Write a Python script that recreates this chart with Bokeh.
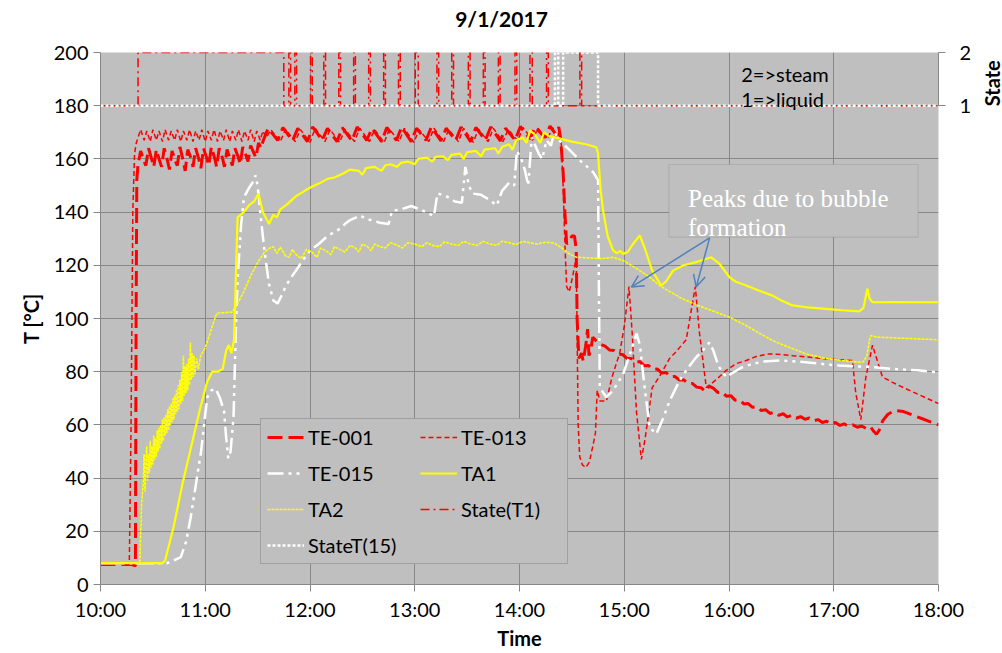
import math
from bokeh.plotting import figure
from bokeh.layouts import row, column
from bokeh.models import (Range1d, LinearAxis, FixedTicker, Legend, LegendItem,
                          BoxAnnotation, Label, Arrow, OpenHead)
from bokeh.embed import file_html
from bokeh.resources import INLINE

# Time is expressed in minutes after 10:00
hour_ticks = [0, 60, 120, 180, 240, 300, 360, 420, 480]
hour_labels = ["10:00", "11:00", "12:00", "13:00", "14:00",
               "15:00", "16:00", "17:00", "18:00"]
temp_ticks = [0, 20, 40, 60, 80, 100, 120, 140, 160, 180, 200]
state_ticks = [1, 2]

# ---- measured series: (minutes after 10:00, value) ----
te001 = [(0, 7.5), (18, 7.5), (20, 7), (20.4, 100), (20.8, 152), (21.5, 158),
         (23, 163), (25, 159), (26, 157.5), (27.5, 164), (29.5, 159.5), (30.5, 157),
         (32, 163.5), (34, 159), (35, 157), (36.5, 164), (38.5, 159), (39.5, 156),
         (41, 163), (43, 159), (44, 157.5), (45.5, 164.5), (47.5, 159), (48.5, 155.5),
         (50, 163.5), (52, 160), (53, 157), (54.5, 164), (56.5, 159.5), (57.5, 156.5),
         (59, 164), (61, 160), (62, 157.5), (63.5, 164.5), (65.5, 160), (66.5, 157),
         (68, 164), (70, 160), (71, 157), (72.5, 163.5), (74.5, 159.5), (75.5, 157.5),
         (77, 164), (79, 160.5), (80, 158), (81.5, 164.5), (83.5, 161), (84.5, 159),
         (86, 165), (88, 162), (89, 160.5), (90.5, 166), (92, 164), (93, 166.5),
         (96, 171.5), (101.5, 167), (104.5, 171.8), (110, 166.8), (113, 171.5),
         (118.5, 166.5), (121.5, 172), (127, 167), (130, 171.5), (135.5, 166.5),
         (138.5, 171.8), (144, 166.8), (147, 172), (152.5, 167), (155.5, 171.5),
         (161, 166.5), (164, 171.8), (169.5, 167), (172.5, 172), (178, 166.5),
         (181, 171.5), (186.5, 167), (189.5, 172), (195, 166.8), (198, 171.5),
         (203.5, 167), (206.5, 172), (212, 166.5), (215, 171.8), (220.5, 167),
         (223.5, 172), (229, 166.8), (232, 171.5), (237.5, 167), (240.5, 172.2),
         (246, 167.5), (249, 172), (254.5, 168), (257.5, 172.3), (261, 169),
         (262.5, 172), (263.5, 168), (265, 155), (266, 140), (267, 128),
         (268.5, 129), (270, 131), (271.5, 131), (272.5, 126), (273, 100),
         (274, 85), (275.5, 87), (276.5, 84), (278, 90), (279, 96), (279.8, 86),
         (281, 89), (282, 93), (284, 91.5), (286.5, 90.3), (289, 89.6), (291.5, 88.2),
         (294, 88.0), (296.5, 86.6), (299, 86.5), (301.5, 85.0), (304, 85.0),
         (306.5, 83.6), (309, 83.8), (311.5, 82.2), (314, 82.3), (316.5, 80.9),
         (319, 81.0), (321.5, 79.5), (324, 79.7), (326.5, 78.1), (329, 78.2),
         (331.5, 76.9), (334, 77.0), (336.5, 75.5), (339, 75.6), (341.5, 74.2),
         (344, 74.0), (346.5, 72.6), (348.5, 74.6), (351, 73.8), (353.5, 72.2),
         (356, 72.4), (358.5, 70.8), (361, 71.0), (363.5, 69.3), (366, 69.4),
         (368.5, 67.9), (371, 68.0), (373.5, 66.6), (376, 66.8), (378.5, 65.4),
         (381, 65.7), (383.5, 64.3), (386, 64.8), (388.5, 63.6), (391, 64.2),
         (393.5, 63.0), (396, 63.6), (398.5, 62.5), (401, 63.1), (403.5, 62.1),
         (406, 62.6), (408.5, 61.5), (411, 62.0), (413.5, 60.9), (416, 61.4),
         (418.5, 60.3), (421, 60.9), (423.5, 59.8), (426, 60.4), (428.5, 59.4),
         (431, 60.0), (433.5, 59.1), (436, 59.6), (438.5, 58.7), (441, 59.3),
         (443, 57.5), (444.5, 56.5), (446, 58), (448, 61.5), (451, 64),
         (455, 65.4), (460, 65), (470, 62.5), (480, 60)]

te013 = [(0, 8), (16.5, 8), (17.5, 60), (18.5, 140), (19.5, 162), (20.5, 166),
         (21.5, 168), (23, 171), (25, 167), (26.5, 170.5), (28.5, 166.5), (30, 171),
         (32, 167), (33.5, 170.5), (35.5, 166.5), (37, 171), (39, 167), (40.5, 170.5),
         (42.5, 167), (44, 171), (46, 166.5), (47.5, 170.5), (49.5, 167), (51, 171),
         (53, 166.5), (54.5, 170.5), (56.5, 167), (58, 171), (60, 166.5), (61.5, 170.5),
         (63.5, 167), (65, 171), (67, 166.5), (68.5, 170.5), (70.5, 167), (72, 171),
         (74, 166.5), (75.5, 170.5), (77.5, 167), (79, 171), (81, 166.5), (82.5, 170.5),
         (84.5, 167), (86, 171), (88, 166.5), (89.5, 170.5), (91.5, 167), (93, 170.5),
         (95, 168), (97.5, 171), (103, 166.5), (106, 171.2), (111.5, 166.5),
         (114.5, 171), (120, 166.2), (123, 171.5), (128.5, 166.5), (131.5, 171),
         (137, 166.2), (140, 171.2), (145.5, 166.5), (148.5, 171.5), (154, 166.5),
         (157, 171), (162.5, 166.2), (165.5, 171.2), (171, 166.5), (174, 171.5),
         (179.5, 166.2), (182.5, 171), (188, 166.5), (191, 171.5), (196.5, 166.5),
         (199.5, 171), (205, 166.5), (208, 171.5), (213.5, 166.2), (216.5, 171.2),
         (222, 166.5), (225, 171.5), (230.5, 166.5), (233.5, 171), (239, 166.8),
         (242, 171.8), (247.5, 167), (250.5, 171.5), (256, 167.5), (259, 171.8),
         (261.5, 168), (263, 170.5), (264, 165), (265, 150), (266, 128), (267, 112),
         (268.5, 110), (270.5, 116), (272.5, 123), (273.6, 60), (274.5, 48),
         (276, 45), (278, 44), (280, 46), (282, 52), (283.5, 57), (284.5, 73),
         (286, 69), (289.8, 69), (293, 78), (297.4, 87), (300, 97), (302.7, 112),
         (304.5, 95), (307, 65), (309.8, 47), (312, 55), (316, 74), (320, 78),
         (326, 85), (329, 87), (335.5, 92), (340.7, 112), (343, 95), (347, 74),
         (352.7, 77), (358.4, 80.5), (364, 83), (369.8, 84.2), (376, 85.8),
         (383, 86.7), (390, 86.5), (396.5, 86), (405, 85.5), (415.5, 84.8),
         (424, 84.5), (430.7, 84.2), (432.6, 72), (435.5, 62), (438.4, 78),
         (442.2, 90), (445, 84), (447.9, 78), (453.6, 76), (460, 74), (470, 71),
         (480, 68)]

te015 = [(0, 8), (38, 8), (42, 9), (46, 10.3), (49, 16), (51.6, 25), (54.5, 37),
         (57.6, 50), (60, 64), (61.2, 70.4), (63.5, 73), (66, 73.6), (68.5, 70),
         (70.8, 65), (72, 55), (73.2, 47.4), (74.5, 50), (76.2, 63), (77.5, 95),
         (78.6, 115.5), (80.5, 135), (82.2, 145.6), (85, 149), (88, 152),
         (88.8, 153.8), (90, 150), (91.8, 138), (94, 125), (96.5, 113), (99, 106.8),
         (101.4, 105.6), (104, 109), (106, 112), (109.2, 115.5), (112, 118),
         (116, 122), (120, 125.6), (125, 128), (130, 131), (134, 132.5),
         (137.4, 133.8), (140, 135.5), (143, 137), (148.8, 138.7), (152, 137.5),
         (156, 136.8), (160, 136), (165, 135.5), (167, 140.5), (172, 141),
         (178, 142.3), (183, 141), (188, 139.5), (191, 138.5), (193, 147),
         (198, 146), (203, 144), (207, 143.5), (209, 157), (211, 150), (213, 147),
         (218, 146.5), (223, 144.5), (227, 142.5), (230, 148), (234, 151),
         (237, 150), (238.5, 163), (241, 160), (243, 156), (245, 150), (247, 168),
         (249, 165), (251, 162), (253, 160), (255.5, 167), (258, 165), (260, 170),
         (262, 168), (264, 166), (267, 164.4), (270, 162.5), (274.6, 159.4),
         (278, 157.5), (282.2, 155), (284.1, 153), (285, 152), (285.5, 110),
         (286, 74), (289.8, 70.4), (293.6, 73), (296, 75.5), (299.3, 79), (303, 86),
         (307, 94.3), (309, 90), (311.5, 75), (314.6, 59), (318.4, 56.6), (322, 62),
         (326, 69), (331.7, 76.7), (336, 81), (341.2, 85.4), (345, 88),
         (348.8, 91), (351, 88), (354, 82), (358.4, 78), (362, 79.5), (367, 81.5),
         (373.6, 83), (380, 83.8), (388.9, 84.2), (400, 83.8), (412, 83),
         (423.2, 82.3), (433, 82), (442.2, 81.7), (455, 81), (468, 80.5),
         (480, 79.8)]

ta1 = [(0, 8), (35.5, 8), (37, 9), (42, 22), (47, 38), (52, 52), (57, 66),
       (61, 76), (64, 80), (67, 80), (70, 81), (72, 88), (73.5, 90), (75, 87),
       (76.5, 92), (78.5, 138), (82, 140), (85, 142.5), (88, 144), (90.5, 147),
       (93, 140), (96.5, 135.5), (99, 139), (101, 138), (103, 141), (107, 143),
       (112, 146), (117, 148), (121, 149.5), (126, 151), (130, 152.5), (134, 153),
       (139, 154.5), (143, 156), (148, 155.5), (150, 154), (152, 156.5), (157, 157),
       (161, 155.5), (163, 157.5), (166, 158), (170, 157), (172, 158.5), (176, 159),
       (180, 158), (182, 160), (187, 160.5), (190, 159), (192, 160.8), (196, 161),
       (199, 159.5), (201, 161.5), (206, 162), (208, 160), (210, 162.5), (215, 163),
       (218, 161), (220, 163.5), (226, 164), (228, 162), (230, 164.5), (234, 165.5),
       (236, 163.5), (238, 167), (242, 168), (244, 166), (246, 170.7), (249, 169),
       (252, 166), (254, 170), (257, 168.5), (261, 168), (270, 166.5), (278, 165.5),
       (284, 164.4), (285, 162), (286.5, 148), (288, 140), (290.5, 131),
       (293.6, 125.6), (296, 124.5), (297.5, 125.5), (299.3, 124.3), (302, 125),
       (305, 128), (308.9, 131.2), (312, 126), (316, 118), (321.2, 112.4),
       (324, 114), (328, 118), (334, 120), (341.2, 121.2), (346, 122.2),
       (349.8, 123), (354.6, 120.5), (360.3, 115.5), (364, 113.8), (369.8, 112.4),
       (377, 110.5), (385, 108.6), (390, 106.8), (396.5, 104.9), (405, 104.2),
       (415.5, 103.6), (425, 103.1), (434.6, 102.7), (437, 104), (439.3, 111.2),
       (440.5, 107.5), (442.2, 106.1), (455, 106.2), (468, 106.1), (480, 106.1)]

ta2 = [(0, 8), (22.5, 8), (23.5, 30), (24.5, 38), (25, 49), (25.5, 35), (26, 46),
       (26.5, 52), (27, 39), (27.5, 49), (28, 42), (28.5, 54), (29, 44), (29.5, 52),
       (30, 45), (30.5, 56), (31, 47), (31.5, 55), (32, 48), (32.5, 58), (33, 50),
       (33.5, 59), (34, 51), (34.5, 60), (35, 53), (35.5, 62), (36, 54), (36.5, 63),
       (37, 56), (37.5, 64), (38, 57), (38.5, 66), (39, 58), (39.5, 67), (40, 60),
       (40.5, 68), (41, 61), (41.5, 70), (42, 62), (42.5, 71), (43, 64), (43.5, 73),
       (44, 65), (44.5, 75), (45, 66), (45.5, 77), (46, 68), (46.5, 80), (47, 69),
       (47.5, 86), (48, 71), (48.5, 82), (49, 72), (49.5, 83), (50, 73), (50.5, 85),
       (51, 75), (51.5, 91), (52, 77), (52.5, 87), (53, 78), (53.5, 86), (54, 79),
       (55, 85), (56, 81), (57.4, 86), (60, 89), (62, 93), (64, 97), (66, 101),
       (67, 102), (75.5, 102.4), (78, 105), (82, 110), (86, 116), (90, 121),
       (94, 125), (97, 126.5), (99, 127), (101, 124.5), (103, 126.8), (106, 123.5),
       (108, 123), (110, 126), (112, 124), (115, 122.5), (118, 126), (121, 125),
       (124, 123), (126, 126.5), (129, 125.5), (132, 124), (134, 127), (137, 126),
       (140, 125), (143, 127.5), (146, 126.5), (148, 125), (150, 128), (153, 127),
       (155, 125.5), (157, 128), (160, 127), (163, 126.5), (166, 128.5),
       (170, 127.5), (173, 126.5), (176, 128.5), (180, 128), (184, 127),
       (187, 128.5), (190, 127.5), (194, 127), (197, 128.8), (201, 128),
       (205, 127.5), (208, 129), (212, 128), (216, 127.5), (219, 129), (223, 128),
       (227, 127.5), (230, 129), (234, 128.5), (238, 127.8), (242, 129),
       (246, 128.5), (250, 128), (255.5, 128.7), (260, 128.3), (265, 126.2),
       (268, 124.5), (272.7, 123), (280, 122.8), (287, 122.5), (293.6, 123),
       (299.3, 121.8), (304, 120), (308.9, 118), (314.6, 115.5), (320, 112.5),
       (325, 110.5), (331.7, 108), (335.5, 106.8), (342, 105), (350, 103),
       (360.3, 100.5), (368, 98), (376, 95), (385, 91.7), (395, 89), (404.1, 86.7),
       (415, 85), (425, 84.2), (434.6, 83.6), (437, 83.8), (439, 86), (440.5, 92),
       (441.3, 93.6), (445, 93), (455, 92.7), (470, 92.3), (480, 92)]

# phase indicator (1 = liquid, 2 = steam), plotted on the right-hand scale
state_t1 = [(0, 1), (21.5, 1), (21.5, 2), (105.0, 2), (105.0, 1),
            (107.9, 1), (107.9, 2), (108.9, 2), (108.9, 1),
            (111.3, 1), (111.3, 2), (112.3, 2), (112.3, 1),
            (120.3, 1), (120.3, 2), (121.3, 2), (121.3, 1),
            (127.9, 1), (127.9, 2), (128.9, 2), (128.9, 1),
            (136.5, 1), (136.5, 2), (137.5, 2), (137.5, 1),
            (145.0, 1), (145.0, 2), (146.0, 2), (146.0, 1),
            (153.6, 1), (153.6, 2), (154.6, 2), (154.6, 1),
            (162.2, 1), (162.2, 2), (163.2, 2), (163.2, 1),
            (170.7, 1), (170.7, 2), (171.7, 2), (171.7, 1),
            (180.3, 1), (180.3, 2), (182.0, 2), (182.0, 1),
            (192.7, 1), (192.7, 2), (193.7, 2), (193.7, 1),
            (201.2, 1), (201.2, 2), (202.2, 2), (202.2, 1),
            (210.7, 1), (210.7, 2), (211.7, 2), (211.7, 1),
            (219.3, 1), (219.3, 2), (220.3, 2), (220.3, 1),
            (227.9, 1), (227.9, 2), (228.9, 2), (228.9, 1),
            (237.4, 1), (237.4, 2), (238.4, 2), (238.4, 1),
            (246.0, 1), (246.0, 2), (247.3, 2), (247.3, 1),
            (255.5, 1), (255.5, 2), (256.5, 2), (256.5, 1),
            (274.6, 1), (274.6, 2), (275.6, 2), (275.6, 1), (480, 1)]

state_t15 = [(0, 1), (260.3, 1), (260.3, 2), (262.2, 2), (262.2, 1), (265.0, 1),
             (265.0, 2), (285.0, 2), (285.0, 1), (480, 1)]


def cols(pairs):
    return [a for a, _ in pairs], [b for _, b in pairs]


def text_strip(width, height):
    """A bare white figure used only to hold a text label."""
    f = figure(width=width, height=height, output_backend="svg",
               toolbar_location=None, title=None,
               x_range=Range1d(0, width), y_range=Range1d(0, height),
               x_axis_type=None, y_axis_type=None, min_border=0)
    f.outline_line_color = None
    f.background_fill_color = "white"
    f.border_fill_color = "white"
    f.grid.visible = False
    return f


GRAY_BG = "#BFBFBF"
GRID = "#878787"
RED = "#FF0000"
YELLOW = "#FFFF00"
WHITE = "#FFFFFF"
FONT = "Lato"
TOP_H = 30

p = figure(width=974, height=653 - TOP_H, output_backend="svg",
           toolbar_location=None, title=None,
           x_range=Range1d(0, 480), y_range=Range1d(0, 200),
           min_border_left=100, min_border_right=34, min_border_top=52 - TOP_H,
           min_border_bottom=69)
p.extra_y_ranges = {"state": Range1d(-8, 2)}

p.background_fill_color = GRAY_BG
p.border_fill_color = "white"
p.outline_line_color = None

# axes
for ax in (p.xaxis[0], p.yaxis[0]):
    ax.axis_line_color = GRID
    ax.major_tick_line_color = GRID
    ax.major_tick_out = 7
    ax.major_tick_in = 0
    ax.minor_tick_line_color = None
    ax.major_label_text_font = FONT
    ax.major_label_text_font_size = "20px"
    ax.major_label_text_color = "black"
    ax.axis_label_text_font = FONT
    ax.axis_label_text_font_size = "20px"
    ax.axis_label_text_font_style = "bold"
    ax.axis_label_text_color = "black"

p.xaxis.ticker = FixedTicker(ticks=hour_ticks)
p.xaxis.major_label_overrides = dict(zip(hour_ticks, hour_labels))
p.xaxis.axis_label = "Time"
p.xaxis.axis_label_standoff = 2
p.yaxis.ticker = FixedTicker(ticks=temp_ticks)
p.yaxis.axis_label = "T [°C]"
p.yaxis.axis_label_standoff = 8

# secondary (state) axis, drawn only over the 1..2 band
right = LinearAxis(y_range_name="state", ticker=FixedTicker(ticks=state_ticks),
                   bounds=(1, 2))
right.axis_line_color = GRID
right.major_tick_line_color = GRID
right.major_tick_out = 7
right.major_tick_in = 0
right.minor_tick_line_color = None
right.major_label_standoff = 14
right.major_label_text_font = FONT
right.major_label_text_font_size = "20px"
right.major_label_text_color = "black"
p.add_layout(right, "right")

p.xgrid.ticker = FixedTicker(ticks=hour_ticks)
p.ygrid.ticker = FixedTicker(ticks=temp_ticks)
for g in (p.xgrid[0], p.ygrid[0]):
    g.grid_line_color = GRID
    g.grid_line_width = 1

# series
x, y = cols(te001)
r_te001 = p.line(x, y, line_color=RED, line_width=3, line_dash="15 6")
x, y = cols(te013)
r_te013 = p.line(x, y, line_color=RED, line_width=1.5, line_dash="5 3")
x, y = cols(te015)
r_te015 = p.line(x, y, line_color=WHITE, line_width=2.5, line_dash="16 5 3 5 3 5")
x, y = cols(ta1)
r_ta1 = p.line(x, y, line_color=YELLOW, line_width=2.2)
x, y = cols(ta2)
r_ta2 = p.line(x, y, line_color=YELLOW, line_width=1.6, line_dash="3 1")
x, y = cols(state_t1)
r_st1 = p.line(x, y, line_color=RED, line_width=1.5, line_dash="9 4 2 4",
               y_range_name="state")
x, y = cols(state_t15)
r_st15 = p.line(x, y, line_color=WHITE, line_width=2.5, line_dash="3 2",
                y_range_name="state")

legend = Legend(items=[
    LegendItem(label="TE-001", renderers=[r_te001]),
    LegendItem(label="TE-013", renderers=[r_te013]),
    LegendItem(label="TE-015", renderers=[r_te015]),
    LegendItem(label="TA1", renderers=[r_ta1]),
    LegendItem(label="TA2", renderers=[r_ta2]),
    LegendItem(label="State(T1)", renderers=[r_st1]),
    LegendItem(label="StateT(15)", renderers=[r_st15]),
], location=(160, 20), orientation="horizontal", ncols=2,
    glyph_width=37, glyph_height=24, label_height=24, label_width=100,
    label_standoff=4, spacing=12, padding=6, margin=0,
    background_fill_color=GRAY_BG, background_fill_alpha=1,
    border_line_color="#7F7F7F", border_line_width=1,
    label_text_font=FONT, label_text_font_size="20px", label_text_color="black")
p.add_layout(legend)

# phase key
p.add_layout(Label(x=367, y=192.1, text="2=>steam", text_font=FONT,
                   text_baseline="alphabetic",
                   text_font_size="20px", text_color="black"))
p.add_layout(Label(x=367, y=182.7, text="1=>liquid", text_font=FONT,
                   text_baseline="alphabetic",
                   text_font_size="20px", text_color="black"))

# callout for the bubble-formation peaks
p.add_layout(BoxAnnotation(left=325.6, right=468.3, bottom=130.6, top=157.9,
                           fill_color=GRAY_BG, fill_alpha=1,
                           line_color="#8C8C8C", line_width=1.2))
p.add_layout(Label(x=336.5, y=145.0, text="Peaks due to bubble",
                   text_font="Liberation Serif", text_font_size="25px",
                   text_baseline="alphabetic", text_color="white"))
p.add_layout(Label(x=336.5, y=134.3, text="formation",
                   text_font="Liberation Serif", text_font_size="25px",
                   text_baseline="alphabetic", text_color="white"))
ARROW = "#4F81BD"
for xe, ye in [(304.1, 111.8), (341.2, 111.8)]:
    p.add_layout(Arrow(end=OpenHead(size=12, line_color=ARROW, line_width=1.5),
                       x_start=348.9, y_start=130.3, x_end=xe, y_end=ye,
                       line_color=ARROW, line_width=1.5))

# chart title strip
top = text_strip(1002, TOP_H)
top.add_layout(Label(x=501, y=TOP_H - 18, text="9/1/2017",
                     text_align="center", text_baseline="middle",
                     text_font=FONT, text_font_size="21px",
                     text_font_style="bold", text_color="black"))

# title of the secondary (state) axis, beside its 1..2 ticks
side = text_strip(28, 653 - TOP_H)
side.add_layout(Label(x=17, y=653 - TOP_H - 36, text="State",
                      angle=math.pi / 2,
                      text_align="center", text_baseline="middle",
                      text_font=FONT, text_font_size="20px",
                      text_font_style="bold", text_color="black"))

layout = column(top, row(p, side, spacing=0), spacing=0)
open("out.html", "w").write(file_html(layout, INLINE))
